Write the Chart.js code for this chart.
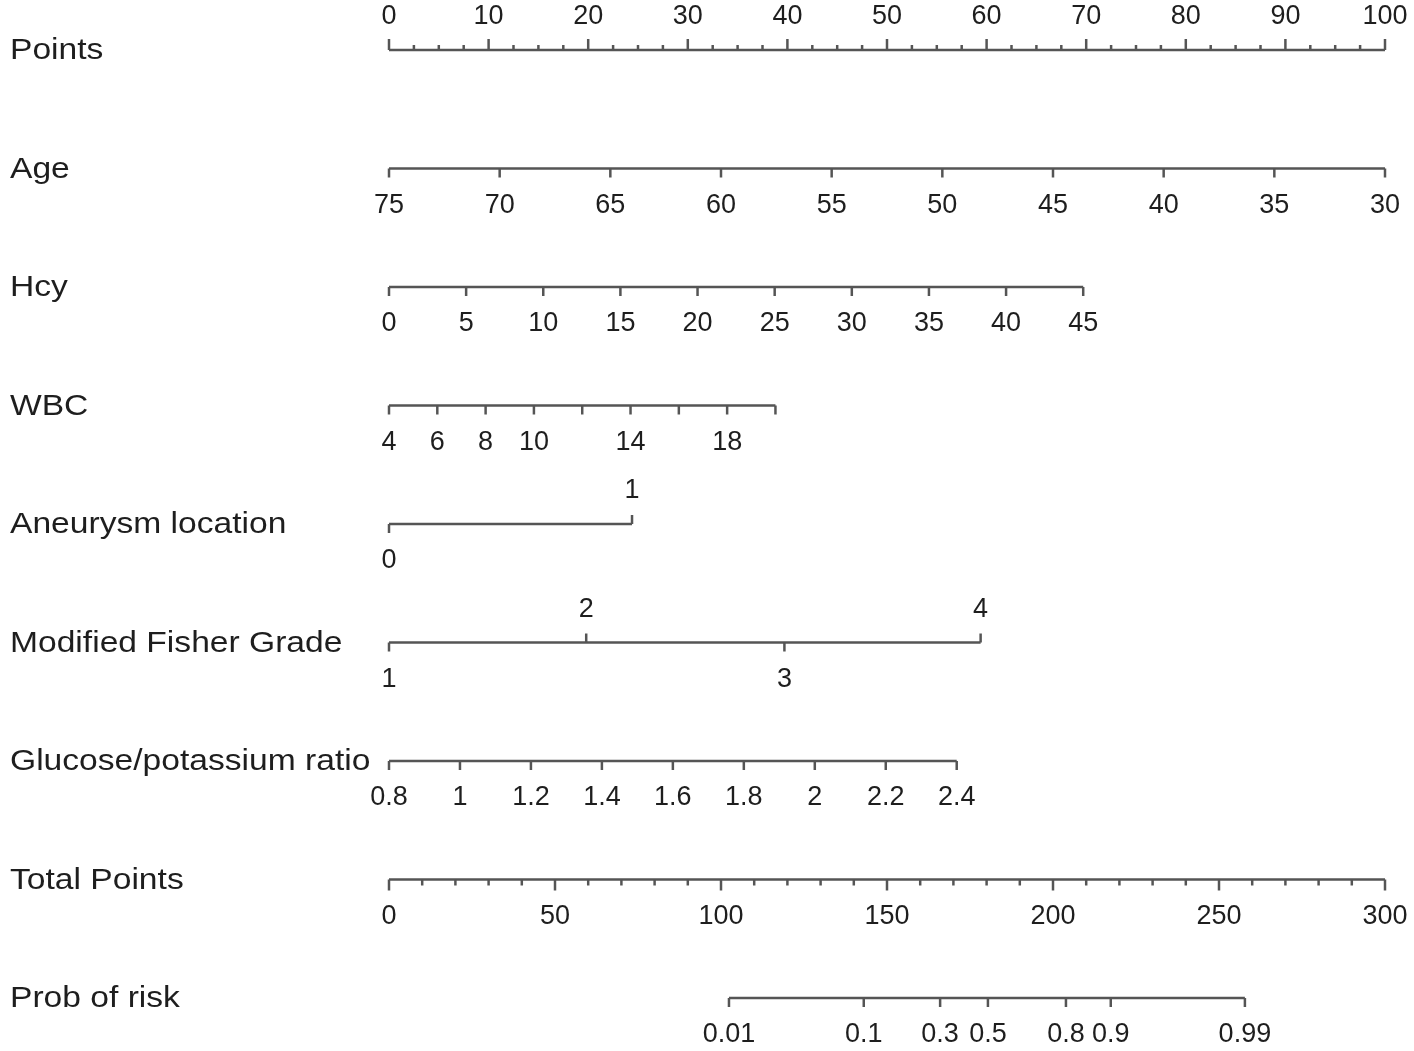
<!DOCTYPE html>
<html>
<head>
<meta charset="utf-8">
<title>Nomogram</title>
<script src="https://cdn.jsdelivr.net/npm/chart.js@4.4.1/dist/chart.umd.min.js"></script>
<style>
    html, body { margin: 0; padding: 0; background: #ffffff; }
    #wrap { width: 1414px; height: 1051px; position: relative; }
</style>
</head>
<body>
<div id="wrap"><canvas id="nomogram"></canvas></div>
<script>
// row titles, top to bottom
const rowNames = ["Points", "Age", "Hcy", "WBC", "Aneurysm location",
    "Modified Fisher Grade", "Glucose/potassium ratio", "Total Points", "Prob of risk"];

// Points scale (0-100), labelled every 10, small ticks every 2.5
const pointsTicks = [0, 10, 20, 30, 40, 50, 60, 70, 80, 90, 100];
const pointsMinorStep = 2.5;

// Age: 75 -> 0 points, 30 -> 100 points
const ageTicks = [75, 70, 65, 60, 55, 50, 45, 40, 35, 30];
const agePoints = [0, 100];

// Hcy: 0 -> 0 points, 45 -> ~69.7 points
const hcyTicks = [0, 5, 10, 15, 20, 25, 30, 35, 40, 45];
const hcyPoints = [0, 69.7];

// WBC: 4 -> 0 points, 20 -> ~38.8 points
const wbcTicks = [4, 6, 8, 10, 12, 14, 16, 18, 20];
const wbcLabels = ["4", "6", "8", "10", "", "14", "", "18", ""];
const wbcPoints = [0, 38.8];

// Aneurysm location (0/1)
const aneurysmTicks = [0, 1];
const aneurysmPoints = [0, 24.4];
const aneurysmUp = [false, true];

// Modified Fisher Grade (1-4)
const fisherTicks = [1, 2, 3, 4];
const fisherPoints = [0, 19.8, 39.7, 59.4];
const fisherUp = [false, true, false, true];

// Glucose/potassium ratio: 0.8 -> 0 points, 2.4 -> ~57 points
const gkTicks = [0.8, 1, 1.2, 1.4, 1.6, 1.8, 2, 2.2, 2.4];
const gkPoints = [0, 57.0];

// Total points (0-300), labelled every 50, small ticks every 10
const totalTicks = [0, 50, 100, 150, 200, 250, 300];
const totalMinorStep = 10;

// Prob of risk, placed on the total points scale
const probLabels = ["0.01", "0.1", "0.3", "0.5", "0.8", "0.9", "0.99"];
const probTotals = [102.4, 143.0, 166.0, 180.4, 203.9, 217.4, 257.8];

const LINE_COLOR = "#555555";
const TEXT_COLOR = "#1e1e1e";

/**
 * maps a variable value onto the points axis (linear effect)
 */
function toPoints(v, ticks, ends) {
    let first = ticks[0], last = ticks[ticks.length - 1];
    return ends[0] + (v - first) / (last - first) * (ends[1] - ends[0]);
}

function linearMarks(ticks, ends, labels) {
    return ticks.map(function (v, i) {
        return {p: toPoints(v, ticks, ends), text: labels ? labels[i] : String(v), up: false, len: 9};
    });
}

function pointsMarks() {
    let marks = [];
    for (let p = 0; p <= 100; p += pointsMinorStep) {
        if (p % 10 !== 0) marks.push({p: p, text: "", up: true, len: 5});
    }
    pointsTicks.forEach(function (v) {
        marks.push({p: v, text: String(v), up: true, len: 11});
    });
    return marks;
}

function totalMarks() {
    let marks = [];
    for (let p = 0; p <= 300; p += totalMinorStep) {
        if (p % 50 !== 0) marks.push({p: p, text: "", up: false, len: 6});
    }
    totalTicks.forEach(function (v) {
        marks.push({p: v, text: String(v), up: false, len: 11});
    });
    return marks;
}

const rows = [
    {axis: "x", marks: pointsMarks()},
    {axis: "x", marks: linearMarks(ageTicks, agePoints)},
    {axis: "x", marks: linearMarks(hcyTicks, hcyPoints)},
    {axis: "x", marks: linearMarks(wbcTicks, wbcPoints, wbcLabels)},
    {axis: "x", marks: aneurysmTicks.map(function (v, i) {
        return {p: aneurysmPoints[i], text: String(v), up: aneurysmUp[i], len: 9};
    })},
    {axis: "x", marks: fisherTicks.map(function (v, i) {
        return {p: fisherPoints[i], text: String(v), up: fisherUp[i], len: 9};
    })},
    {axis: "x", marks: linearMarks(gkTicks, gkPoints)},
    {axis: "xTotal", marks: totalMarks()},
    {axis: "xTotal", marks: probLabels.map(function (t, i) {
        return {p: probTotals[i], text: t, up: false, len: 9};
    })}
];
rows.forEach(function (row, i) { row.name = rowNames[i]; });

// one horizontal line per row, from its lowest to its highest mark
let datasets = rows.map(function (row, i) {
    let ps = row.marks.map(function (m) { return m.p; });
    return {
        data: [{x: Math.min.apply(null, ps), y: i}, {x: Math.max.apply(null, ps), y: i}],
        xAxisID: row.axis,
        borderColor: LINE_COLOR,
        borderWidth: 2.5,
        pointRadius: 0,
        clip: false
    };
});

/**
 * draws ticks, tick labels and row titles
 */
const nomogramPlugin = {
    id: "nomogram",
    afterDatasetsDraw(chart) {
        let ctx = chart.ctx;
        let yScale = chart.scales.y;
        ctx.save();
        rows.forEach(function (row, i) {
            let y = yScale.getPixelForValue(i);
            let xs = chart.scales[row.axis];
            ctx.strokeStyle = LINE_COLOR;
            ctx.lineWidth = 2.5;
            ctx.fillStyle = TEXT_COLOR;
            ctx.textAlign = "center";
            ctx.textBaseline = "middle";
            ctx.font = '27px "Liberation Sans", Arial, sans-serif';
            for (const m of row.marks) {
                let x = xs.getPixelForValue(m.p);
                let dir = m.up ? -1 : 1;
                ctx.beginPath();
                ctx.moveTo(x, y);
                ctx.lineTo(x, y + dir * m.len);
                ctx.stroke();
                if (m.text) {
                    ctx.fillText(m.text, x, y + dir * (m.up ? 33 : 37));
                }
            }
            ctx.save();
            ctx.translate(10, y + 1);
            ctx.scale(1.12, 1);
            ctx.textAlign = "left";
            ctx.font = '30px "Liberation Sans", Arial, sans-serif';
            ctx.fillText(row.name, 0, 0);
            ctx.restore();
        });
        ctx.restore();
    }
};

new Chart(document.getElementById("nomogram"), {
    type: "line",
    data: {datasets: datasets},
    options: {
        responsive: true,
        maintainAspectRatio: false,
        animation: false,
        layout: {padding: {left: 389, right: 29, top: 50, bottom: 53}},
        plugins: {
            legend: {display: false},
            tooltip: {enabled: false}
        },
        scales: {
            x: {type: "linear", min: 0, max: 100, display: false},
            xTotal: {type: "linear", axis: "x", min: 0, max: 300, display: false},
            y: {type: "linear", min: 0, max: 8, reverse: true, display: false}
        }
    },
    plugins: [nomogramPlugin]
});
</script>
</body>
</html>
